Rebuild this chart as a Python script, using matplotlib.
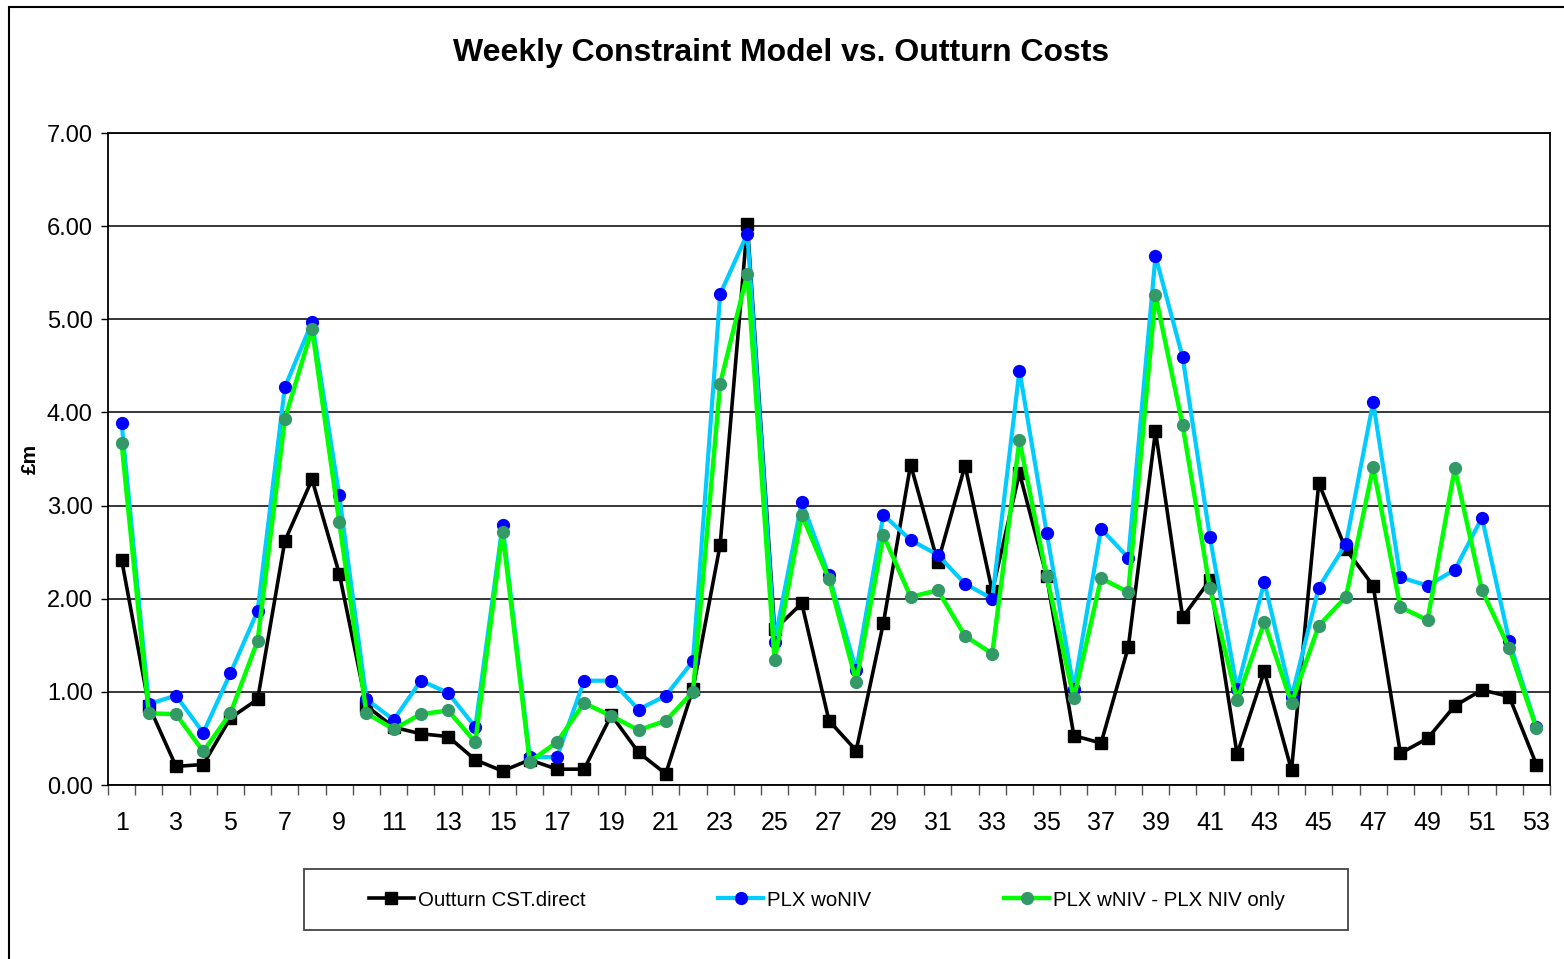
import matplotlib
matplotlib.use("Agg")
import matplotlib.pyplot as plt
from matplotlib.patches import Rectangle
import numpy as np

plt.rcParams['font.family'] = ['Liberation Sans', 'DejaVu Sans']

# semanas 1..53
semanas = list(range(1, 54))

outturn = [2.42, 0.85, 0.20, 0.22, 0.72, 0.92, 2.62, 3.28, 2.27, 0.85,
           0.62, 0.55, 0.52, 0.27, 0.15, 0.27, 0.17, 0.17, 0.75, 0.35,
           0.12, 1.03, 2.58, 6.02, 1.67, 1.95, 0.69, 0.37, 1.74, 3.44,
           2.39, 3.43, 2.08, 3.35, 2.24, 0.53, 0.45, 1.48, 3.80, 1.80,
           2.20, 0.33, 1.22, 0.16, 3.24, 2.53, 2.14, 0.34, 0.50, 0.85,
           1.02, 0.95, 0.22]

plx_woniv = [3.89, 0.87, 0.96, 0.56, 1.20, 1.87, 4.27, 4.97, 3.11, 0.92,
             0.70, 1.12, 0.99, 0.62, 2.79, 0.30, 0.30, 1.12, 1.12, 0.81,
             0.96, 1.33, 5.27, 5.92, 1.54, 3.04, 2.25, 1.23, 2.90, 2.63,
             2.47, 2.16, 2.00, 4.45, 2.71, 1.03, 2.75, 2.44, 5.68, 4.59,
             2.66, 1.03, 2.18, 0.94, 2.12, 2.59, 4.11, 2.23, 2.14, 2.31,
             2.87, 1.55, 0.62]

plx_wniv = [3.67, 0.77, 0.76, 0.36, 0.77, 1.55, 3.93, 4.90, 2.82, 0.77,
            0.60, 0.76, 0.80, 0.46, 2.72, 0.25, 0.46, 0.88, 0.74, 0.59,
            0.69, 1.00, 4.31, 5.49, 1.34, 2.90, 2.21, 1.11, 2.68, 2.02,
            2.09, 1.60, 1.41, 3.70, 2.24, 0.93, 2.22, 2.07, 5.26, 3.86,
            2.11, 0.91, 1.75, 0.88, 1.71, 2.02, 3.41, 1.91, 1.77, 3.40,
            2.09, 1.47, 0.61]

nomes = ["Outturn CST.direct", "PLX woNIV", "PLX wNIV - PLX NIV only"]

fig = plt.figure(figsize=(15.64, 9.59), dpi=100)
ax = fig.add_axes([108/1564, 1 - 785/959, (1550 - 108)/1564, (785 - 133)/959])

# moldura externa do grafico
fig.patches.append(Rectangle((9/1564, -0.1), 1.2, 0.1 + (959 - 7)/959,
                             transform=fig.transFigure, fill=False,
                             edgecolor='black', linewidth=1.5))

l1, = ax.plot(semanas, outturn, color='black', lw=2.6, marker='s',
              markersize=8, markerfacecolor='black', markeredgecolor='black',
              zorder=3)
l2, = ax.plot(semanas, plx_woniv, color='#00CCFF', lw=3, marker='o',
              markersize=8.5, markerfacecolor='#0000FF',
              markeredgecolor='#0000FF', zorder=4)
l3, = ax.plot(semanas, plx_wniv, color='#00FF00', lw=3.2, marker='o',
              markersize=8.5, markerfacecolor='#339966',
              markeredgecolor='#339966', zorder=5)

ax.set_xlim(0.5, 53.5)
ax.set_ylim(0, 7)
ax.set_yticks(np.arange(0, 7.01, 1))
ax.set_yticklabels(["%.2f" % v for v in np.arange(0, 7.01, 1)], fontsize=17)
ax.yaxis.grid(True, color='black', linewidth=1.1)
ax.set_axisbelow(True)

ax.set_xticks(semanas[::2])
ax.set_xticklabels([str(s) for s in semanas[::2]], fontsize=18)
ax.set_xticks(np.arange(0.5, 54, 1), minor=True)
ax.tick_params(axis='x', which='major', length=0, pad=19)
ax.tick_params(axis='x', which='minor', length=7, width=1, color='#555555',
               direction='out')
ax.tick_params(axis='y', length=5, width=1, pad=6)

for s in ax.spines.values():
    s.set_linewidth(1.3)

ax.set_ylabel("£m", fontsize=15, fontweight='bold')
ax.yaxis.set_label_coords(-0.047, 0.5)

fig.text(781/1564, 1 - 53/959, "Weekly Constraint Model vs. Outturn Costs",
         ha='center', va='center', fontsize=23, fontweight='bold')

# legenda com caixa propria
fig.patches.append(Rectangle((304/1564, 1 - 930/959), (1348 - 304)/1564,
                             61/959, transform=fig.transFigure, fill=False,
                             edgecolor='#444444', linewidth=1.3))
fig.legend([l1, l2, l3], nomes, loc='center',
           bbox_to_anchor=(827/1564, 1 - 900/959), ncol=3, frameon=False,
           fontsize=14.7, handlelength=2.2, handletextpad=0.2,
           columnspacing=6.5)

fig.savefig("out.png", dpi=100)
